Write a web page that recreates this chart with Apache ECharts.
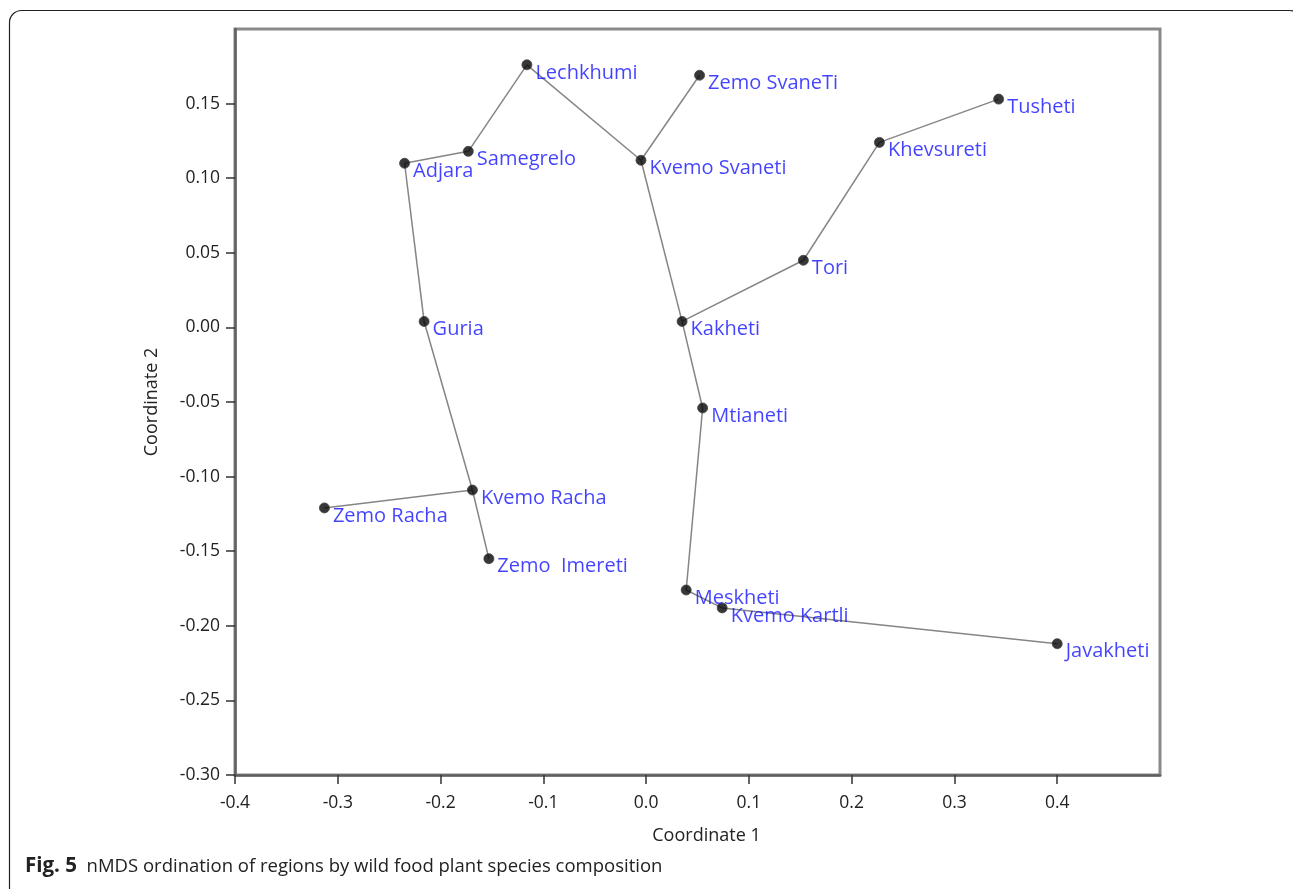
<!DOCTYPE html>
<html>
<head>
<meta charset="utf-8">
<script src="https://cdn.jsdelivr.net/npm/echarts@6/dist/echarts.min.js"></script>
<style>
  html, body { margin: 0; padding: 0; background: #fff; }
  #chart { width: 1293px; height: 889px; }
</style>
</head>
<body>
<div id="chart"></div>
<script>
// nMDS coordinates of the regions
const regions = ['Lechkhumi', 'Samegrelo', 'Adjara', 'Guria', 'Kvemo Racha', 'Zemo Racha', 'Zemo  Imereti',
  'Zemo SvaneTi', 'Kvemo Svaneti', 'Tusheti', 'Khevsureti', 'Tori', 'Kakheti', 'Mtianeti',
  'Meskheti', 'Kvemo Kartli', 'Javakheti'];
const coord1 = [-0.116, -0.173, -0.235, -0.216, -0.169, -0.313, -0.153,
  0.052, -0.005, 0.343, 0.227, 0.153, 0.035, 0.055,
  0.039, 0.074, 0.400];
const coord2 = [0.176, 0.118, 0.110, 0.004, -0.109, -0.121, -0.155,
  0.169, 0.112, 0.153, 0.124, 0.045, 0.004, -0.054,
  -0.176, -0.188, -0.212];

// minimum spanning tree links between regions
const links = [
  ['Lechkhumi', 'Samegrelo'], ['Samegrelo', 'Adjara'], ['Adjara', 'Guria'],
  ['Guria', 'Kvemo Racha'], ['Kvemo Racha', 'Zemo Racha'], ['Kvemo Racha', 'Zemo  Imereti'],
  ['Lechkhumi', 'Kvemo Svaneti'], ['Kvemo Svaneti', 'Zemo SvaneTi'], ['Kvemo Svaneti', 'Kakheti'],
  ['Kakheti', 'Tori'], ['Tori', 'Khevsureti'], ['Khevsureti', 'Tusheti'],
  ['Kakheti', 'Mtianeti'], ['Mtianeti', 'Meskheti'], ['Meskheti', 'Kvemo Kartli'],
  ['Kvemo Kartli', 'Javakheti']
];

// axis ticks
const xTicks = [-0.4, -0.3, -0.2, -0.1, 0.0, 0.1, 0.2, 0.3, 0.4];
const yTicks = [-0.30, -0.25, -0.20, -0.15, -0.10, -0.05, 0.00, 0.05, 0.10, 0.15];

const FONT = '"Open Sans", "Noto Sans", sans-serif';

const pointOf = name => {
  const i = regions.indexOf(name);
  return [coord1[i], coord2[i]];
};

const points = regions.map((n, i) => ({ name: n, value: [coord1[i], coord2[i]] }));
const segments = links.map(([a, b]) => ({ coords: [pointOf(a), pointOf(b)] }));

const chart = echarts.init(document.getElementById('chart'), null, { renderer: 'canvas' });

chart.setOption({
  backgroundColor: '#ffffff',
  animation: false,
  grid: {
    left: 235, top: 29, width: 925, height: 746,
    show: true, borderColor: '#8a8a8a', borderWidth: 3, backgroundColor: 'transparent'
  },
  xAxis: {
    type: 'value', min: -0.4, max: 0.5, interval: 0.1,
    name: 'Coordinate 1', nameLocation: 'middle', nameGap: 52,
    nameTextStyle: { fontFamily: FONT, fontSize: 18, color: '#222', padding: [0, 0, 0, 18] },
    axisLine: { show: true, onZero: false, lineStyle: { color: '#606060', width: 2.5 } },
    axisTick: { show: true, inside: false, length: 9, customValues: xTicks, lineStyle: { color: '#333', width: 1.5 } },
    axisLabel: {
      customValues: xTicks, margin: 19, fontFamily: FONT, fontSize: 17.5, color: '#222',
      formatter: v => v.toFixed(1)
    },
    splitLine: { show: false }
  },
  yAxis: {
    type: 'value', min: -0.3, max: 0.2, interval: 0.05,
    name: 'Coordinate 2', nameLocation: 'middle', nameGap: 74, nameRotate: 90,
    nameTextStyle: { fontFamily: FONT, fontSize: 18, color: '#222' },
    axisLine: { show: true, onZero: false, lineStyle: { color: '#606060', width: 2.5 } },
    axisTick: { show: true, inside: false, length: 9, customValues: yTicks, lineStyle: { color: '#333', width: 1.5 } },
    axisLabel: {
      customValues: yTicks, margin: 15, fontFamily: FONT, fontSize: 17.5, color: '#222',
      formatter: v => v.toFixed(2)
    },
    splitLine: { show: false }
  },
  series: [
    {
      type: 'lines',
      coordinateSystem: 'cartesian2d',
      polyline: false,
      silent: true,
      lineStyle: { color: '#858585', width: 1.5, opacity: 1 },
      data: segments,
      z: 2
    },
    {
      type: 'scatter',
      data: points,
      symbol: 'circle',
      symbolSize: 10,
      itemStyle: { color: '#050505', borderColor: '#444', borderWidth: 1 },
      label: {
        show: true,
        position: 'right',
        distance: 3,
        offset: [0, 8],
        formatter: p => p.name,
        fontFamily: FONT,
        fontSize: 20,
        color: '#1414ff'
      },
      z: 3
    }
  ],
  graphic: [
    {
      type: 'rect',
      shape: { x: 9.5, y: 10.5, width: 1292, height: 890, r: 12 },
      style: { fill: 'none', stroke: '#222', lineWidth: 1.2 },
      silent: true
    },
    {
      type: 'text',
      left: 25, top: 856,
      style: {
        text: '{b|Fig. 5}  nMDS ordination of regions by wild food plant species composition',
        fontFamily: FONT, fontSize: 18.5, fill: '#222',
        rich: { b: { fontFamily: FONT, fontSize: 20.5, fontWeight: 'bold', fill: '#222' } }
      }
    }
  ]
});
</script>
</body>
</html>
